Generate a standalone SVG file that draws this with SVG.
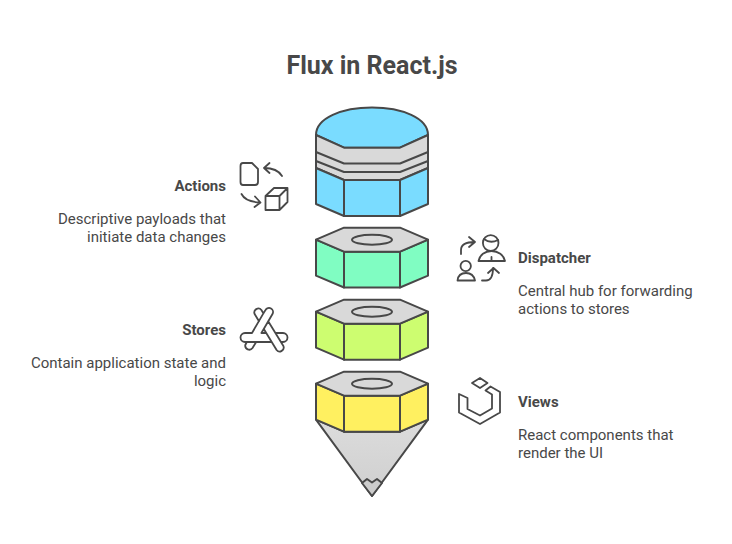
<svg xmlns="http://www.w3.org/2000/svg" width="732" height="544" viewBox="0 0 732 544">
<defs>
<linearGradient id="cone" x1="0" y1="0" x2="0" y2="1"><stop offset="0" stop-color="#dcdcdc"/><stop offset="1" stop-color="#cfcfcf"/></linearGradient>
</defs>
<style>
.s{stroke:#484848;stroke-width:2;stroke-linejoin:round;stroke-linecap:round}
.g{fill:#d9d9d9}
.i{fill:none;stroke:#484848;stroke-width:1.8;stroke-linejoin:round;stroke-linecap:round}
.t{font-family:"Roboto","Liberation Sans",sans-serif;fill:#484848}
.h{font-size:15px;font-weight:700}
.b{font-size:15px}
</style>
<rect width="732" height="544" fill="#fff"/>
<text class="t" x="372" y="74" text-anchor="middle" font-size="25" font-weight="700">Flux in React.js</text>
<g id="connectors"/>
<g id="node-actions">
<path class="s" fill="#7adcff" d="M316 135C316 118 342 107.500 372 107.500C402 107.500 428 118 428 135L400 147.700H344Z"/>
<path class="s g" d="M316 135L344 147.700H400L428 135V168L400 180H344L316 168Z"/>
<path class="s" fill="none" d="M316 152L344 163.500H400L428 152M316 161L344 172H400L428 161"/>
<path class="s" fill="#7adcff" d="M316 168L344 180V216L316 204Z"/>
<path class="s" fill="#7adcff" d="M344 180H400V216H344Z"/>
<path class="s" fill="#7adcff" d="M400 180L428 168V204L400 216Z"/>
<path class="i" d="M243 163H252L258 169V182Q258 185 255 185H243Q240.500 185 240.500 182V166Q240.500 163 243 163ZM282 176C279 171 273 168 264 168M269.500 163L264 168L269.500 173"/>
<path class="i" d="M241.500 194C244 199 250 202 260 202.500M255 196.500L260.500 202.500L254.500 207"/>
<path class="i" d="M265.500 196H279.500V210H265.500ZM265.500 196L274 188H287.500V202L279.500 210M279.500 196L287.500 188"/>
<text class="t h" x="226" y="191" text-anchor="end">Actions</text>
<text class="t b" x="226" y="224" text-anchor="end">Descriptive payloads that</text>
<text class="t b" x="226" y="242" text-anchor="end">initiate data changes</text>
</g>
<g id="node-dispatcher">
<path class="s" fill="#80fdc2" d="M316 239.700L344 251.700V287.500L316 275.700Z"/>
<path class="s" fill="#80fdc2" d="M344 251.700H400V287.500H344Z"/>
<path class="s" fill="#80fdc2" d="M400 251.700L428 239.700V275.700L400 287.500Z"/>
<path class="s g" d="M344 227.700H400L428 239.700L400 251.700H344L316 239.700Z"/>
<ellipse class="s g" cx="372" cy="239.700" rx="20" ry="5"/>
<path class="i" d="M461 254V250C461 245 466 242 475 242M469 237L475 242L469 247"/>
<circle class="i" cx="490.700" cy="243" r="7.800"/>
<path class="i" d="M484 239C489 243 494 242 498 240M478.500 261C479.500 255 485 251 491.500 251C498 251 504 255 505 261ZM491.500 257V261"/>
<circle class="i" cx="465.700" cy="266" r="5.200"/>
<path class="i" d="M457.500 280.500C458 276 461 273 466 273C471 273 474 276 475 280.500ZM482 280.500H486C491 280.500 493 276 493 268M488 273L493.500 268L499 273"/>
<text class="t h" x="518" y="263">Dispatcher</text>
<text class="t b" x="518" y="296">Central hub for forwarding</text>
<text class="t b" x="518" y="314">actions to stores</text>
</g>
<g id="node-stores">
<path class="s" fill="#cdfd70" d="M316 311.700L344 323.700V359.700L316 347.700Z"/>
<path class="s" fill="#cdfd70" d="M344 323.700H400V359.700H344Z"/>
<path class="s" fill="#cdfd70" d="M400 323.700L428 311.700V347.700L400 359.700Z"/>
<path class="s g" d="M344 299.700H400L428 311.700L400 323.700H344L316 311.700Z"/>
<ellipse class="s g" cx="372" cy="311.700" rx="20" ry="5"/>
<path class="i" d="M252 333L263.400 313.400L265.500 310A4 4 0 0 1 272.500 314L261.400 333H266.200M263.400 313.400L261.400 310A4 4 0 0 0 254.600 314L259 321.200M263.800 329L276.600 350A4 4 0 0 0 283.400 346L268.200 321.200M252 333H245A4.500 4.500 0 0 0 245 342H271.700M275.500 333H283A4.500 4.500 0 0 1 283 342H281M246.800 342L245.300 345A4 4 0 0 0 252.500 348L256.200 342"/>
<text class="t h" x="226" y="335" text-anchor="end">Stores</text>
<text class="t b" x="226" y="368" text-anchor="end">Contain application state and</text>
<text class="t b" x="226" y="386" text-anchor="end">logic</text>
</g>
<g id="node-views">
<path class="s" fill="url(#cone)" d="M316 419.700L372 496L428 419.700L400 431.700H344Z"/>
<path class="s" fill="#cccccc" d="M362 483L367 479L372 482.500L377 479L382 483L372 496Z"/>
<path class="s" fill="#fff060" d="M316 383.700L344 395.700V431.700L316 419.700Z"/>
<path class="s" fill="#fff060" d="M344 395.700H400V431.700H344Z"/>
<path class="s" fill="#fff060" d="M400 395.700L428 383.700V419.700L400 431.700Z"/>
<path class="s g" d="M344 371.700H400L428 383.700L400 395.700H344L316 383.700Z"/>
<ellipse class="s g" cx="372" cy="383.700" rx="20" ry="5"/>
<path class="i" d="M480 378L487.500 383L480 388L472 383ZM459 394L467.500 398V409L480 415.500L492 408.500V394.500L485.500 390.500L490.500 386.500L500 392V412.500L480 424L459 412.500Z"/>
<text class="t h" x="518" y="407">Views</text>
<text class="t b" x="518" y="440">React components that</text>
<text class="t b" x="518" y="458">render the UI</text>
</g>
</svg>
